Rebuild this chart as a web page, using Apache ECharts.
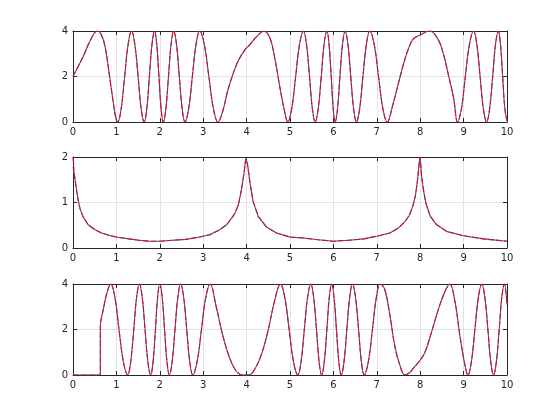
<!DOCTYPE html>
<html><head><meta charset="utf-8">
<script src="https://cdn.jsdelivr.net/npm/echarts@6/dist/echarts.min.js"></script>
<style>html,body{margin:0;padding:0;background:#fff}#c{width:560px;height:420px}</style>
</head><body><div id="c"></div>
<script>
// Top panel
const topX = [
  0.00,0.12,0.24,0.39,0.56,0.65,0.74,0.85,0.94,0.99,
  1.03,1.11,1.19,1.27,1.35,1.425,1.50,1.57,1.64,1.70,
  1.76,1.82,1.88,1.93,1.98,2.03,2.08,2.14,2.20,2.26,
  2.32,2.385,2.45,2.515,2.58,2.665,2.75,2.835,2.92,3.025,
  3.13,3.235,3.34,3.45,3.56,3.68,3.80,3.96,4.07,4.23,
  4.40,4.54,4.65,4.77,4.86,4.95,5.04,5.13,5.22,5.31,
  5.38,5.45,5.515,5.58,5.65,5.72,5.785,5.85,5.90,5.95,
  5.995,6.04,6.095,6.15,6.21,6.27,6.335,6.40,6.465,6.53,
  6.605,6.68,6.76,6.84,6.94,7.04,7.14,7.24,7.37,7.49,
  7.61,7.72,7.84,8.00,8.22,8.42,8.54,8.65,8.77,8.86,
  8.95,9.04,9.135,9.23,9.305,9.38,9.455,9.53,9.60,9.67,
  9.735,9.80,9.85,9.90,9.95,10.0];
const topY = [
  2.0,2.45,2.9,3.55,4.0,3.85,3.3,1.9,0.7,0.15,
  0.0,0.59,2.0,3.41,4.0,3.41,2.0,0.59,0.0,0.59,
  2.0,3.41,4.0,3.41,2.0,0.59,0.0,0.59,2.0,3.41,
  4.0,3.41,2.0,0.59,0.0,0.59,2.0,3.41,4.0,3.41,
  2.0,0.59,0.0,0.47,1.34,2.07,2.66,3.17,3.39,3.75,
  4.0,3.68,2.8,1.49,0.61,0.0,0.59,2.0,3.41,4.0,
  3.41,2.0,0.59,0.0,0.59,2.0,3.41,4.0,3.41,2.0,
  0.59,0.0,0.59,2.0,3.41,4.0,3.41,2.0,0.59,0.0,
  0.59,2.0,3.41,4.0,3.41,2.0,0.59,0.0,0.76,1.64,
  2.51,3.17,3.65,3.82,4.0,3.6,2.95,2.07,1.05,0.0,
  0.59,2.0,3.41,4.0,3.41,2.0,0.59,0.0,0.59,2.0,
  3.41,4.0,3.41,2.0,0.59,0.05];
// Middle panel
const midX = [0.00,0.03,0.06,0.09,0.12,0.16,0.23,0.35,0.51,0.66,0.86,1.00,1.29,1.52,1.76,2.00,2.30,2.60,2.92,3.15,3.38,3.54,3.65,3.73,3.81,3.88,3.94,3.98,4.00,4.02,4.08,4.15,4.27,4.46,4.69,5.00,5.31,5.65,6.00,6.35,6.70,7.00,7.30,7.50,7.65,7.75,7.83,7.89,7.94,7.98,8.00,8.03,8.07,8.13,8.23,8.38,8.62,9.00,9.46,10.0];
const midY = [1.78,1.62,1.42,1.22,1.05,0.87,0.69,0.51,0.40,0.33,0.27,0.24,0.20,0.17,0.15,0.15,0.17,0.19,0.24,0.29,0.40,0.51,0.65,0.76,0.95,1.27,1.64,1.96,2.0,1.85,1.42,1.02,0.69,0.46,0.33,0.24,0.22,0.18,0.15,0.17,0.20,0.26,0.33,0.44,0.58,0.72,0.92,1.15,1.5,1.9,2.0,1.6,1.3,0.99,0.70,0.51,0.36,0.27,0.20,0.15];
const midRedStart = [0.00, 2.0];
// Bottom panel
const botX = [
  0.00,0.63,0.63,0.70,0.78,0.87,0.965,1.06,1.16,1.26,
  1.33,1.40,1.465,1.53,1.595,1.66,1.725,1.79,1.845,1.90,
  1.95,2.00,2.055,2.11,2.165,2.22,2.285,2.35,2.415,2.48,
  2.55,2.62,2.69,2.76,2.86,2.96,3.06,3.16,3.30,3.45,
  3.60,3.75,3.90,4.05,4.20,4.35,4.50,4.65,4.78,4.88,
  4.98,5.08,5.18,5.255,5.33,5.405,5.48,5.545,5.61,5.67,
  5.73,5.79,5.85,5.905,5.96,6.015,6.07,6.125,6.18,6.245,
  6.31,6.375,6.44,6.51,6.58,6.645,6.71,6.805,6.90,6.99,
  7.08,7.18,7.30,7.41,7.53,7.65,7.75,7.84,8.00,8.10,
  8.22,8.38,8.54,8.68,8.80,8.91,9.03,9.10,9.18,9.26,
  9.34,9.42,9.49,9.56,9.625,9.69,9.755,9.82,9.88,9.94,
  10.0];
const botY = [
  0.0,0.0,2.1,2.9,3.6,4.0,3.41,2.0,0.59,0.0,
  0.59,2.0,3.41,4.0,3.41,2.0,0.59,0.0,0.59,2.0,
  3.41,4.0,3.41,2.0,0.59,0.0,0.59,2.0,3.41,4.0,
  3.41,2.0,0.59,0.0,0.59,2.0,3.41,4.0,3.0,1.75,
  0.8,0.2,0.0,0.0,0.3,0.95,2.0,3.3,4.0,3.41,
  2.0,0.59,0.0,0.59,2.0,3.41,4.0,3.41,2.0,0.59,
  0.0,0.59,2.0,3.41,4.0,3.41,2.0,0.59,0.0,0.59,
  2.0,3.41,4.0,3.41,2.0,0.59,0.0,0.59,2.0,3.41,
  4.0,3.78,2.65,1.32,0.44,0.0,0.1,0.29,0.66,0.96,
  1.62,2.65,3.53,4.0,3.24,1.79,0.44,0.0,0.59,2.0,
  3.41,4.0,3.41,2.0,0.59,0.0,0.59,2.0,3.41,4.0,
  3.1];
const xTicks = [0,1,2,3,4,5,6,7,8,9,10];
const yRanges = [[0,4,2],[0,2,1],[0,4,2]];

const pair = (xs, ys) => xs.map((x,i)=>[x, ys[i]]);
const BLUE = '#0072BD', RED = '#FF0000', AX = '#262626', GRIDC = '#e3e3e3';
const tops = [31, 157, 284];
const grids = tops.map(t => ({left:73, right:53, top:t, height:91}));
const xAxis = [], yAxis = [];
grids.forEach((g, i) => {
  const common = {type:'value', gridIndex:i, min:xTicks[0], max:xTicks[xTicks.length-1], interval:1,
    axisLine:{show:true, onZero:false, lineStyle:{color:AX, width:1}},
    axisTick:{show:true, inside:true, length:4, lineStyle:{color:AX}}};
  xAxis.push(Object.assign({}, common, {position:'bottom',
    axisLabel:{show:true, color:AX, fontSize:10, fontFamily:'DejaVu Sans', margin:5},
    splitLine:{show:true, lineStyle:{color:GRIDC, width:1}}}));
  xAxis.push(Object.assign({}, common, {position:'top', axisLabel:{show:false}, splitLine:{show:false}}));
  const [mn, mx, iv] = yRanges[i];
  const yc = {type:'value', gridIndex:i, min:mn, max:mx, interval:iv,
    axisLine:{show:true, onZero:false, lineStyle:{color:AX, width:1}},
    axisTick:{show:true, inside:true, length:4, lineStyle:{color:AX}}};
  yAxis.push(Object.assign({}, yc, {position:'left',
    axisLabel:{show:true, color:AX, fontSize:10, fontFamily:'DejaVu Sans', margin:5},
    splitLine:{show:true, lineStyle:{color:GRIDC, width:1}}}));
  yAxis.push(Object.assign({}, yc, {position:'right', axisLabel:{show:false}, splitLine:{show:false}}));
});
const datasets = [
  {blue: pair(topX, topY), red: pair(topX, topY), smooth:0.4},
  {blue: pair(midX, midY), red: [midRedStart].concat(pair(midX.slice(1), midY.slice(1))), smooth:false},
  {blue: pair(botX, botY), red: pair(botX, botY), smooth:0.4}
];
const series = [];
datasets.forEach((d, i) => {
  series.push({type:'line', xAxisIndex:2*i, yAxisIndex:2*i, data:d.blue, showSymbol:false, smooth:d.smooth,
    lineStyle:{color:BLUE, width:1.1}, silent:true, animation:false, clip:true});
  series.push({type:'line', xAxisIndex:2*i, yAxisIndex:2*i, data:d.red, showSymbol:false, smooth:d.smooth,
    lineStyle:{color:RED, width:1.1, type:[6,2]}, silent:true, animation:false, clip:true});
});
const chart = echarts.init(document.getElementById('c'), null, {renderer:'canvas'});
chart.setOption({animation:false, backgroundColor:'#fff', grid:grids, xAxis, yAxis, series});
</script></body></html>
